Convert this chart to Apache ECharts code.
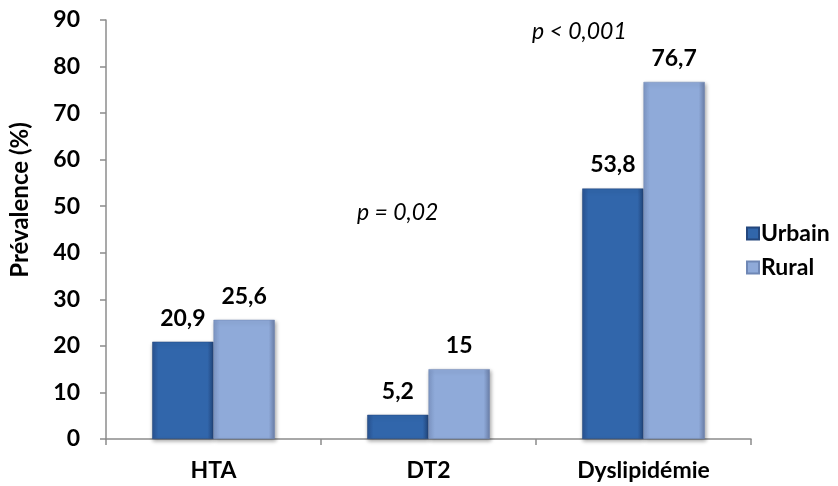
<!DOCTYPE html>
<html>
<head>
<meta charset="utf-8">
<script src="https://cdn.jsdelivr.net/npm/echarts@6/dist/echarts.min.js"></script>
<style>
  html, body { margin: 0; padding: 0; background: #fff; }
  #chart { width: 838px; height: 486px; }
</style>
</head>
<body>
<div id="chart"></div>
<script>
// Prévalence des facteurs de risque selon le milieu
const categories = ['HTA', 'DT2', 'Dyslipidémie'];
const urbain = [20.9, 5.2, 53.8];
const rural = [25.6, 15, 76.7];
const yTicks = { min: 0, max: 90, interval: 10 };
const pValues = [
  { text: 'p = 0,02', x: 357, y: 213 },
  { text: 'p < 0,001', x: 532, y: 32 }
];

const FONT = 'Lato, "Open Sans", sans-serif';

function barGradient(edge, mid, right) {
  return new echarts.graphic.LinearGradient(0, 0, 1, 0, [
    { offset: 0, color: edge },
    { offset: 0.1, color: mid },
    { offset: 0.9, color: mid },
    { offset: 1, color: right }
  ]);
}

function fmt(v) {
  return String(v).replace('.', ',');
}

const labelStyle = {
  show: true,
  position: 'top',
  distance: 12,
  formatter: p => fmt(p.value),
  fontFamily: FONT, fontSize: 23, fontWeight: 'bold', color: '#000'
};

const chart = echarts.init(document.getElementById('chart'));
chart.setOption({
  animation: false,
  grid: { left: 106, right: 87, top: 20, bottom: 47 },
  legend: {
    orient: 'vertical',
    left: 741,
    top: 217,
    itemWidth: 12,
    itemHeight: 12,
    itemGap: 11,
    icon: 'rect',
    textStyle: { fontFamily: FONT, fontSize: 23, fontWeight: 'bold', color: '#000', padding: [0, 0, 0, -3] },
    data: ['Urbain', 'Rural']
  },
  xAxis: {
    type: 'category',
    data: categories,
    axisLine: { lineStyle: { color: '#8c8c8c', width: 1.5 } },
    axisTick: { show: true, length: 6, lineStyle: { color: '#8c8c8c', width: 1.5 } },
    axisLabel: { margin: 20, fontFamily: FONT, fontSize: 23, fontWeight: 'bold', color: '#000' }
  },
  yAxis: {
    type: 'value',
    min: yTicks.min,
    max: yTicks.max,
    interval: yTicks.interval,
    splitLine: { show: false },
    axisLine: { show: true, lineStyle: { color: '#8c8c8c', width: 1.5 } },
    axisTick: { show: true, length: 6, lineStyle: { color: '#8c8c8c', width: 1.5 } },
    axisLabel: { margin: 26, fontFamily: FONT, fontSize: 23, fontWeight: 'bold', color: '#000' }
  },
  graphic: [
    {
      type: 'text',
      x: 20,
      y: 200,
      rotation: Math.PI / 2,
      style: {
        text: 'Prévalence (%)',
        font: 'bold 24px ' + FONT,
        fill: '#000',
        align: 'center',
        verticalAlign: 'middle'
      }
    }
  ].concat(pValues.map(p => ({
    type: 'text',
    x: p.x,
    y: p.y,
    style: {
      text: p.text,
      font: 'italic 23px ' + FONT,
      fill: '#000',
      align: 'left',
      verticalAlign: 'middle'
    }
  }))),
  series: [
    {
      name: 'Urbain',
      type: 'bar',
      data: urbain,
      barGap: '0%',
      barCategoryGap: '43%',
      itemStyle: {
        color: barGradient('#2a5494', '#3166ab', '#24487f'),
        borderColor: '#24477d',
        borderWidth: 0.5,
        shadowColor: 'rgba(0,0,0,0.35)',
        shadowBlur: 4,
        shadowOffsetX: 1,
        shadowOffsetY: 2
      },
      label: labelStyle
    },
    {
      name: 'Rural',
      type: 'bar',
      data: rural,
      itemStyle: {
        color: barGradient('#8099c8', '#8faad9', '#6c80aa'),
        borderColor: '#6f87b5',
        borderWidth: 0.5,
        shadowColor: 'rgba(0,0,0,0.35)',
        shadowBlur: 4,
        shadowOffsetX: 1,
        shadowOffsetY: 2
      },
      label: labelStyle
    }
  ]
});
</script>
</body>
</html>
